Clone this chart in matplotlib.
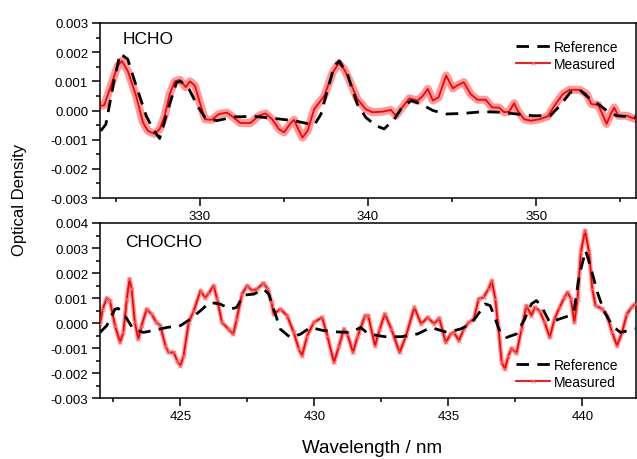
import matplotlib
matplotlib.use("Agg")
import matplotlib.pyplot as plt
from matplotlib.lines import Line2D
from matplotlib.ticker import MultipleLocator, FormatStrFormatter

plt.rcParams['font.family'] = ['Liberation Sans', 'DejaVu Sans']

# ---------------- HCHO panel ----------------
hcho_meas_wl = [324.1, 324.3, 324.7, 325.1, 325.35, 325.7, 326.2, 326.6, 326.9, 327.3,
                327.6, 327.9, 328.2, 328.5, 328.8, 329.15, 329.4, 329.7, 330.05, 330.3,
                330.7, 331.1, 331.6, 332.0, 332.4, 333.0, 333.5, 333.9, 334.3, 334.7,
                335.0, 335.4, 335.6, 335.8, 336.1, 336.4, 336.8, 337.4, 337.9, 338.25,
                338.6, 338.86, 339.36, 339.86, 340.26, 340.86, 341.36, 341.66, 341.96, 342.46,
                342.96, 343.26, 343.56, 343.86, 344.2, 344.65, 345.05, 345.35, 345.7, 346.1,
                346.5, 347.0, 347.4, 347.8, 348.1, 348.4, 348.7, 348.9, 349.3, 349.7,
                350.2, 350.7, 351.1, 351.6, 352.0, 352.6, 353.0, 353.3, 353.7, 353.9,
                354.2, 354.45, 354.65, 354.9, 355.4, 355.95]
hcho_meas_od = [0.00016, 0.00018, 0.00085, 0.00153, 0.0017, 0.00136, 0.0005, -0.0004, -0.0007, -0.0008,
                -0.00064, -0.00018, 0.00056, 0.001, 0.00105, 0.0008, 0.001, 0.00085, 0.00016, -0.0003,
                -0.00032, -0.00013, -0.00007, -0.00024, -0.00043, -0.00043, -0.00018, -0.0001, -0.0003, -0.00064,
                -0.00075, -0.00043, -0.00032, -0.00058, -0.00093, -0.0007, 0.00005, 0.0005, 0.0013, 0.00162,
                0.0014, 0.00108, 0.0004, 0.00005, -0.00006, -0.00004, 0.00002, -0.00018, 0.00005, 0.00042,
                0.00034, 0.0005, 0.00074, 0.00034, 0.00045, 0.0012, 0.00076, 0.00087, 0.00097, 0.00057,
                0.00037, 0.00037, 0.0001, 0.0001, -0.00006, -0.00004, 0.00025, 0.0, -0.0003, -0.00035,
                -0.0003, -0.0002, 0.00017, 0.00057, 0.00071, 0.00071, 0.00057, 0.00022, 0.00019, -0.00006,
                -0.00046, -0.00012, 0.0001, -0.00018, -0.00018, -0.0003]

hcho_ref_wl = [324.09, 324.4, 324.9, 325.25, 325.7, 326.2, 326.8, 327.2, 327.6, 328.1,
               328.6, 328.85, 329.35, 329.85, 330.3, 331.0, 332.0, 333.2, 334.4, 335.6,
               336.8, 337.2, 337.6, 338.0, 338.3, 338.8, 339.36, 339.86, 340.46, 340.96,
               341.56, 341.96, 342.56, 343.16, 343.86, 344.65, 345.65, 346.85, 347.85, 348.85,
               349.84, 350.84, 351.44, 352.04, 352.6, 353.1, 353.7, 354.2, 354.8, 355.95]
hcho_ref_od = [-0.0007, -0.00047, 0.00107, 0.00195, 0.00176, 0.00085, -0.00018, -0.00064, -0.00096, 0.00005,
               0.00096, 0.001, 0.00073, 0.00016, -0.00024, -0.00035, -0.00022, -0.0002, -0.00027, -0.00035,
               -0.0005, -0.00013, 0.00073, 0.00153, 0.0017, 0.0012, 0.00022, -0.00023, -0.00052, -0.00063,
               -0.0003, 0.00005, 0.00034, 0.00022, 0.0, -0.00012, -0.0001, -0.00004, -0.00006, -0.00012,
               -0.00018, -0.00018, 0.00017, 0.00062, 0.00071, 0.00045, 0.00022, 0.0, -0.00018, -0.00023]

# ---------------- CHOCHO panel ----------------
chocho_meas_wl = [422.0, 422.1, 422.25, 422.37, 422.56, 422.75, 422.87, 423.0, 423.1, 423.18,
                  423.3, 423.43, 423.55, 423.74, 423.93, 424.1, 424.25, 424.44, 424.56, 424.75,
                  424.88, 425.0, 425.12, 425.31, 425.5, 425.75, 425.93, 426.06, 426.24, 426.37,
                  426.55, 426.8, 426.97, 427.1, 427.3, 427.49, 427.67, 427.86, 428.1, 428.26,
                  428.4, 428.48, 428.73, 428.98, 429.23, 429.42, 429.54, 429.73, 429.98, 430.29,
                  430.48, 430.73, 430.92, 431.1, 431.23, 431.44, 431.62, 431.89, 432.01, 432.26,
                  432.44, 432.63, 432.87, 433.18, 433.42, 433.73, 433.98, 434.23, 434.47, 434.66,
                  434.9, 435.09, 435.21, 435.39, 435.58, 435.76, 435.95, 436.13, 436.31, 436.5,
                  436.62, 436.75, 436.87, 436.99, 437.11, 437.24, 437.36, 437.54, 437.73, 437.91,
                  438.1, 438.22, 438.4, 438.59, 438.78, 438.96, 439.15, 439.33, 439.45, 439.57,
                  439.7, 439.82, 439.94, 440.1, 440.25, 440.37, 440.49, 440.74, 440.92, 441.11,
                  441.29, 441.48, 441.66, 441.84, 441.97]
chocho_meas_od = [-0.00004, 0.00056, 0.001, 0.0009, -0.0001, -0.00077, -0.00037, 0.00096, 0.00176, 0.00136,
                  0.00003, -0.00064, -0.0001, 0.00056, 0.00036, 0.00003, -0.0001, -0.0009, -0.00117, -0.00117,
                  -0.0015, -0.0017, -0.0013, 0.00003, 0.0005, 0.0013, 0.001, 0.0012, 0.0015, 0.00096,
                  0.00003, -0.00024, -0.00044, 0.00016, 0.00116, 0.0015, 0.0013, 0.00136, 0.0016, 0.00136,
                  0.00083, 0.00036, 0.00056, 0.0003, -0.00037, -0.00104, -0.0013, -0.0005, 0.00003, 0.00023,
                  -0.0005, -0.00157, -0.0009, -0.00024, -0.00044, -0.00117, -0.0005, 0.0003, 0.0003, -0.0009,
                  -0.00023, 0.00037, -0.00023, -0.00117, -0.0005, 0.00063, -0.00003, 0.00023, -0.00003, 0.0002,
                  -0.00077, -0.00043, -0.00037, -0.0007, -0.00023, 0.00003, 0.00017, 0.00097, 0.00103, 0.00137,
                  0.0017, 0.00097, -0.00023, -0.00157, -0.00183, -0.0013, -0.001, -0.0012, -0.00023, 0.0007,
                  0.0003, 0.00063, 0.0005, 0.00003, -0.00057, 0.00017, 0.00063, 0.00103, 0.00123, 0.00097,
                  0.00003, 0.00097, 0.00283, 0.0037, 0.00283, 0.00137, 0.0007, 0.00057, 0.0003, -0.00037,
                  -0.0009, -0.00037, 0.00037, 0.00063, 0.00077]

chocho_ref_wl = [422.0, 422.25, 422.56, 422.68, 422.93, 423.24, 423.62, 424.1, 424.5, 425.0,
                 425.37, 425.75, 426.1, 426.49, 426.87, 427.1, 427.36, 427.74, 428.1, 428.3,
                 428.48, 428.73, 429.1, 429.48, 429.85, 430.35, 430.85, 431.35, 431.73, 432.01,
                 432.63, 433.24, 433.85, 434.35, 434.96, 435.46, 435.83, 436.07, 436.38, 436.56,
                 436.75, 436.93, 437.17, 437.54, 437.85, 438.1, 438.28, 438.46, 438.78, 439.15,
                 439.51, 439.7, 439.88, 440.12, 440.31, 440.56, 440.8, 441.11, 441.42, 441.97]
chocho_ref_od = [-0.00037, -0.0001, 0.00056, 0.00059, 0.0003, -0.00024, -0.00037, -0.00027, -0.00017, -0.0001,
                 0.00016, 0.0005, 0.00083, 0.00076, 0.00056, 0.00063, 0.00112, 0.00116, 0.00136, 0.00116,
                 0.00056, -0.00024, -0.00057, -0.00044, -0.00017, -0.0003, -0.00035, -0.00037, -0.00017, -0.00043,
                 -0.00054, -0.00054, -0.00043, -0.00017, -0.00037, -0.00023, -0.00003, 0.0003, 0.00077, 0.0007,
                 0.00017, -0.00037, -0.00057, -0.00043, 0.00017, 0.00077, 0.0009, 0.0007, 0.00003, 0.00017,
                 0.0003, 0.00057, 0.0019, 0.0029, 0.00223, 0.00123, 0.0005, -0.0001, -0.00037, -0.00023]

panel_names = ["HCHO", "CHOCHO"]
legend_labels = ["Reference", "Measured"]
ylabel = "Optical Density"
xlabel = "Wavelength / nm"

W, H = 637, 460
fig = plt.figure(figsize=(W / 100, H / 100), dpi=100)

def ax_rect(l, t, r, b):
    return [l / W, 1 - b / H, (r - l) / W, (b - t) / H]

ax1 = fig.add_axes(ax_rect(100, 24, 636, 199))
ax2 = fig.add_axes(ax_rect(100, 224, 636, 399.3))

RED = '#ff0000'
HALO = '#ff9a9a'

def style(ax, xmaj, xmin):
    ax.xaxis.set_major_locator(MultipleLocator(xmaj))
    ax.xaxis.set_minor_locator(MultipleLocator(xmin))
    ax.yaxis.set_major_locator(MultipleLocator(0.001))
    ax.yaxis.set_minor_locator(MultipleLocator(0.0005))
    ax.yaxis.set_major_formatter(FormatStrFormatter('%.3f'))
    ax.tick_params(which='major', direction='out', length=6, width=1.1, labelsize=9.5, pad=2.5,
                   top=False, right=False)
    ax.tick_params(which='minor', direction='out', length=3, width=1.1, top=False, right=False)
    for s in ax.spines.values():
        s.set_linewidth(1.1)

def draw(ax, rwl, rod, mwl, mod, halo_lw, ms):
    ax.plot(mwl, mod, color=HALO, lw=halo_lw, solid_capstyle='round', solid_joinstyle='round', zorder=2)
    ax.plot(mwl, mod, color=RED, lw=1.3, marker='x', ms=ms, mec='#ff7070', mew=0.6, zorder=3)
    ax.plot(rwl, rod, color='black', lw=2.0, dashes=(4.5, 3.0), zorder=4)

draw(ax1, hcho_ref_wl, hcho_ref_od, hcho_meas_wl, hcho_meas_od, 5.8, 0)
draw(ax2, chocho_ref_wl, chocho_ref_od, chocho_meas_wl, chocho_meas_od, 3.2, 3)

style(ax1, 10, 5)
style(ax2, 5, 2.5)
ax1.set_xlim(324.05, 355.95)
ax1.set_ylim(-0.003, 0.003)
ax2.set_xlim(422.0, 442.0)
ax2.set_ylim(-0.003, 0.004)

ax1.text(0.043, 0.914, panel_names[0], transform=ax1.transAxes, fontsize=12.5, va='center', ha='left')
ax2.text(0.047, 0.897, panel_names[1], transform=ax2.transAxes, fontsize=12.5, va='center', ha='left')

handles = [Line2D([], [], color='black', lw=2.0, dashes=(4.5, 3.0)),
           Line2D([], [], color=RED, lw=1.3, marker='x', ms=3, mec='#ff7070', mew=0.6)]
leg_kw = dict(frameon=False, fontsize=10, handlelength=2.4, handletextpad=0.3,
              labelspacing=0.22, borderpad=0.2, numpoints=1)
ax1.legend(handles, legend_labels, loc='upper right', bbox_to_anchor=(0.985, 0.96), **leg_kw)
ax2.legend(handles, legend_labels, loc='lower right', bbox_to_anchor=(0.985, 0.0), **leg_kw)

fig.text(20 / W, 1 - 200 / H, ylabel, rotation=90, fontsize=12, ha='center', va='center')
fig.text(372 / W, 3 / H, xlabel, fontsize=13.5, ha='center', va='bottom')

fig.savefig('out.png', dpi=100)
